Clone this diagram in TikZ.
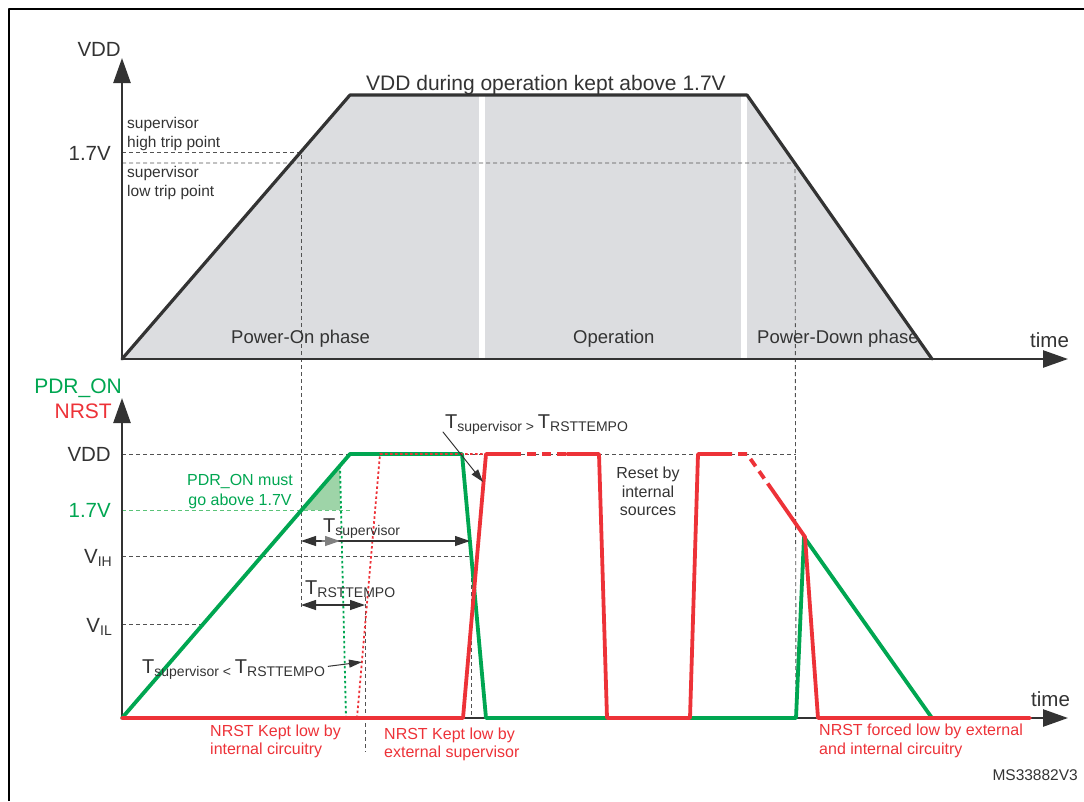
\documentclass[tikz,border=0pt]{standalone}
\usepackage{fontspec}
\setmainfont{Liberation Sans}
\usetikzlibrary{arrows.meta}
\definecolor{axisgray}{RGB}{51,51,51}
\definecolor{phasegray}{RGB}{220,221,224}
\definecolor{nrstred}{RGB}{237,50,56}
\definecolor{pdrgreen}{RGB}{0,166,81}
\definecolor{lightpdr}{RGB}{90,195,120}
\definecolor{pdrshade}{RGB}{158,212,168}
\newcommand\fsz[1]{\fontsize{#1}{#1}\selectfont}
\newcommand\tsubs[1]{{\fsz{20}T}\raisebox{-3.5pt}{\fsz{14}#1}}
\tikzset{
  axis/.style={axisgray,line width=2.5pt,-{Triangle[length=25pt,width=17pt]}},
  guide/.style={axisgray!85,line width=0.9pt,line cap=butt,dash pattern=on 4pt off 3pt},
  vddline/.style={axisgray,line width=3.2pt},
  pdr/.style={pdrgreen,line width=3.8pt},
  nrst/.style={nrstred,line width=3.8pt},
  dotsig/.style={line width=1.8pt,line cap=butt,dash pattern=on 2.5pt off 2.5pt},
  dashsig/.style={nrst,line cap=butt,dash pattern=on 9pt off 6pt},
  lbl/.style={inner sep=0pt,text=axisgray},
  small/.style={lbl,font=\fsz{16}},
  meas/.style={axisgray,line width=1.2pt,{Triangle[length=15pt,width=10pt]}-{Triangle[length=15pt,width=10pt]}},
  pointer/.style={axisgray,line width=1pt,-{Triangle[length=13pt,width=8pt]}}
}
\begin{document}
\begin{tikzpicture}[x=1pt,y=-1pt,line join=round,line cap=round,font=\fsz{20.5}]
	\useasboundingbox (0,0) rectangle (1084,801);
	\draw[line width=2.5pt,line cap=butt] (9,801)--(9,9)--(1084,9);
	% VDD
	\coordinate (O1) at (122,359); \coordinate (up1) at (350,95); \coordinate (up2) at (747,95); \coordinate (dn1) at (932,359);
	\coordinate (hi) at (301,152); \coordinate (lo) at (795,163);
	\fill[phasegray] (O1)--(up1)--(up2)--(dn1)--cycle;
	\fill[white] (479,95) rectangle (485,359); \fill[white] (741,95) rectangle (747,359);
	\draw[guide] (122,152)--(hi)--(301,608);
	\draw[guide] (122,163)--(lo)--(796,718);
	\draw[vddline] (O1)--(up1)--(up2)--(dn1);
	\draw[axis] (O1)--(1068,359);
	\draw[axis] (O1)--(122,58);
	\node[lbl,anchor=base east] (vddtop) at (121,56) {VDD};
	\node[lbl,anchor=base east] (trip) at (111,160) {1.7V};
	\node[lbl,anchor=base west,font=\fsz{21}] (optitle) at (366,90) {VDD during operation kept above 1.7V};
	\foreach \txt/\yy in {supervisor/128,high trip point/147,supervisor/177,low trip point/196}
		\node[lbl,anchor=base west,font=\fsz{15.5}] (trip\yy) at (127,\yy) {\txt};
	\foreach \txt/\xx in {Power-On phase/231,Operation/573,Power-Down phase/757}
		\node[lbl,anchor=base west,font=\fsz{18.5}] (phase\xx) at (\xx,343) {\txt};
	\node[lbl,anchor=base west] (time1) at (1030,347) {time};
	% PDR_ON / NRST
	\coordinate (O2) at (122,718);
	\draw[guide] (122,454)--(796,454);
	\draw[guide] (122,556)--(471,556)--(471,718);
	\draw[guide] (122,624)--(203,624);
	\draw[guide,lightpdr] (122,510)--(352,510);
	\draw[guide] (365,597)--(365,752);
	\fill[pdrshade] (301,510)--(340,510)--(340,466)--cycle;
	\draw[axis] (O2)--(1068,718);
	\draw[axis] (O2)--(122,398);
	\draw[dotsig,pdrgreen] (340,466)--(346,718);
	\draw[pdr] (O2)--(350,454)--(462,454)--(486,718)--(796,718)--(804,537)--(932,718);
	\draw[dotsig,nrstred] (357,718)--(380,454)--(486,454);
	\draw[nrst] (O2)--(463,718)--(486,454)--(512,454);
	\draw[dashsig] (512,454)--(567,454);
	\draw[nrst] (567,454)--(599,454)--(607,718)--(690,718)--(698,454)--(723,454);
	\draw[dashsig] (723,454)--(747,454)--(773,491);
	\draw[nrst] (773,491)--(805,537)--(818,718)--(1030,718);
	\node[lbl,anchor=base east,text=pdrgreen,font=\fsz{21}] (pdron) at (122,393) {PDR\_ON};
	\node[lbl,anchor=base east,text=nrstred,font=\fsz{21}] (nrst) at (112,418) {NRST};
	\node[lbl,anchor=base east] (vddlow) at (111,461) {VDD};
	\node[lbl,anchor=base east,text=pdrgreen] (pdrtrip) at (111,517) {1.7V};
	\node[lbl,anchor=base east] (vih) at (112,563) {V\raisebox{-3.5pt}{\fsz{14}IH}};
	\node[lbl,anchor=base east] (vil) at (112,632) {V\raisebox{-3.5pt}{\fsz{14}IL}};
	\node[lbl,anchor=base west] (time2) at (1031,706) {time};
	\node[small,anchor=base,text=pdrgreen] (must1) at (240,485) {PDR\_ON must};
	\node[small,anchor=base,text=pdrgreen] (must2) at (240,505) {go above 1.7V};
	% timings
	\draw[meas] (301,541)--(470,541);
	\draw[pointer,gray,line width=1.2pt,-{Triangle[length=15pt,width=10pt]}] (322,541)--(340,541);
	\draw[meas] (301,605)--(365,605);
	\node[lbl,anchor=base west] (tsup) at (323,532) {\tsubs{supervisor}};
	\node[lbl,anchor=base west] (trst) at (305,594) {\tsubs{RSTTEMPO}};
	\node[lbl,anchor=base west] (tless) at (142,673) {\tsubs{supervisor < }\tsubs{RSTTEMPO}};
	\node[lbl,anchor=base west] (tmore) at (445,428) {\tsubs{supervisor > }\tsubs{RSTTEMPO}};
	\draw[pointer] (tless.east)++(3,-3)--(362,662);
	\draw[pointer] (443,432)--(483,482);
	\foreach \txt/\yy in {Reset by/478,internal/497,sources/515}
		\node[small,anchor=base] (reset\yy) at (648,\yy) {\txt};
	\node[small,anchor=base west,text=nrstred] (kept1) at (210,736) {NRST Kept low by};
	\node[small,anchor=base west,text=nrstred] (kept2) at (210,754) {internal circuitry};
	\node[small,anchor=base west,text=nrstred] (ext1) at (384,739) {NRST Kept low by};
	\node[small,anchor=base west,text=nrstred] (ext2) at (384,757) {external supervisor};
	\node[small,anchor=base west,text=nrstred] (forced1) at (819,735) {NRST forced low by external};
	\node[small,anchor=base west,text=nrstred] (forced2) at (819,754) {and internal circuitry};
	\node[lbl,anchor=base east,font=\fsz{15.5}] (ref) at (1078,780) {MS33882V3};
\end{tikzpicture}
\end{document}
